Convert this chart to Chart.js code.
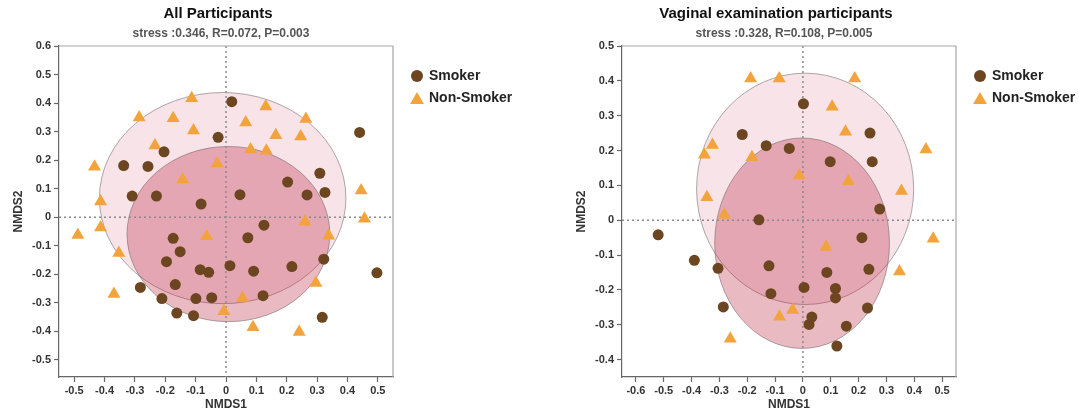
<!DOCTYPE html>
<html>
<head>
<meta charset="utf-8">
<script src="https://cdn.jsdelivr.net/npm/chart.js@4.4.1/dist/chart.umd.min.js"></script>
<style>
  html, body { margin: 0; padding: 0; background: #fff; }
  .panel { position: absolute; top: 0; width: 516px; height: 416px; }
</style>
</head>
<body>
<div class="panel" style="left:0"><canvas id="allChart" width="516" height="416"></canvas></div>
<div class="panel" style="left:563px"><canvas id="vagChart" width="516" height="416"></canvas></div>
<script>
// ---- data ----
const seriesNames = ['Smoker', 'Non-Smoker'];

// All Participants
const allSmoker = [
  [0.019, 0.405], [-0.026, 0.280], [-0.204, 0.229], [-0.337, 0.181], [-0.257, 0.178],
  [-0.309, 0.074], [-0.229, 0.074], [-0.082, 0.046], [0.046, 0.079], [0.440, 0.297],
  [0.309, 0.154], [0.203, 0.123], [0.267, 0.078], [0.326, 0.087], [0.125, -0.028],
  [-0.174, -0.074], [0.072, -0.072], [-0.151, -0.121], [-0.196, -0.156], [-0.085, -0.184],
  [-0.057, -0.193], [0.013, -0.170], [-0.167, -0.236], [-0.282, -0.246], [-0.211, -0.285],
  [-0.099, -0.285], [-0.047, -0.282], [-0.162, -0.336], [-0.107, -0.345], [0.091, -0.189],
  [0.217, -0.173], [0.322, -0.147], [0.497, -0.195], [0.122, -0.275], [0.317, -0.351]
];
const allNonSmoker = [
  [-0.113, 0.417], [-0.286, 0.349], [-0.174, 0.347], [-0.107, 0.304], [0.065, 0.332],
  [-0.234, 0.251], [-0.433, 0.177], [-0.029, 0.188], [-0.143, 0.132], [-0.413, 0.055],
  [-0.413, -0.036], [-0.488, -0.062], [-0.064, -0.067], [0.131, 0.388], [0.263, 0.344],
  [0.164, 0.287], [0.246, 0.283], [0.081, 0.237], [0.133, 0.233], [0.445, 0.094],
  [0.456, -0.005], [0.260, -0.016], [0.338, -0.065], [-0.353, -0.125], [-0.369, -0.269],
  [0.054, -0.283], [-0.007, -0.330], [0.089, -0.386], [0.296, -0.231], [0.241, -0.402]
];
// confidence ellipses: [centerX, centerY, radiusX, radiusY]
const allEllipseSmoker = [0.008, -0.059, 0.334, 0.307];
const allEllipseNonSmoker = [-0.011, 0.067, 0.406, 0.370];
const allXTicks = [-0.5, -0.4, -0.3, -0.2, -0.1, 0, 0.1, 0.2, 0.3, 0.4, 0.5];
const allYTicks = [-0.5, -0.4, -0.3, -0.2, -0.1, 0, 0.1, 0.2, 0.3, 0.4, 0.5, 0.6];

// Vaginal examination participants
const vagSmoker = [
  [-0.218, 0.246], [-0.132, 0.214], [-0.158, 0.001], [-0.520, -0.042], [0.002, 0.334],
  [0.241, 0.250], [-0.049, 0.206], [0.098, 0.168], [0.249, 0.168], [0.276, 0.032],
  [0.212, -0.050], [-0.390, -0.115], [-0.305, -0.138], [-0.286, -0.249], [-0.122, -0.131],
  [-0.115, -0.211], [0.086, -0.150], [0.237, -0.141], [0.004, -0.193], [0.117, -0.196],
  [0.117, -0.223], [0.232, -0.252], [0.032, -0.278], [0.022, -0.299], [0.156, -0.304],
  [0.122, -0.361]
];
const vagNonSmoker = [
  [-0.188, 0.407], [-0.325, 0.216], [-0.354, 0.188], [-0.183, 0.181], [-0.345, 0.066],
  [-0.282, 0.016], [-0.085, 0.407], [0.186, 0.407], [0.105, 0.326], [0.153, 0.254],
  [0.442, 0.203], [-0.013, 0.128], [0.163, 0.112], [0.354, 0.084], [0.468, -0.053],
  [0.083, -0.077], [0.347, -0.147], [-0.037, -0.258], [-0.084, -0.277], [-0.261, -0.340]
];
const vagEllipseSmoker = [-0.003, -0.066, 0.314, 0.302];
const vagEllipseNonSmoker = [0.008, 0.090, 0.390, 0.332];
const vagXTicks = [-0.6, -0.5, -0.4, -0.3, -0.2, -0.1, 0, 0.1, 0.2, 0.3, 0.4, 0.5];
const vagYTicks = [-0.4, -0.3, -0.2, -0.1, 0, 0.1, 0.2, 0.3, 0.4, 0.5];

// ---- look ----
const FONT = "'Liberation Sans', Arial, sans-serif";
const SMOKER_COLOR = '#6c4621';
const NONSMOKER_COLOR = '#f3a33b';
const SMOKER_FILL = 'rgba(185, 25, 52, 0.30)';
const NONSMOKER_FILL = 'rgba(200, 70, 100, 0.15)';

function drawTriangle(ctx, x, y, r) {
  ctx.beginPath();
  ctx.moveTo(x, y - r);
  ctx.lineTo(x + r * Math.sin(Math.PI * 2 / 3), y + r / 2);
  ctx.lineTo(x - r * Math.sin(Math.PI * 2 / 3), y + r / 2);
  ctx.closePath();
  ctx.fill();
}

// ellipses, zero lines, frame, titles and legend
const nmdsDecor = {
  id: 'nmdsDecor',
  beforeDatasetsDraw(chart, args, opts) {
    const { ctx, chartArea: a, scales: { x, y } } = chart;
    ctx.save();

    // ellipses (non-smoker first, smoker on top)
    [[opts.nonSmokerEllipse, NONSMOKER_FILL], [opts.smokerEllipse, SMOKER_FILL]].forEach(([e, fill]) => {
      const cx = x.getPixelForValue(e[0]);
      const cy = y.getPixelForValue(e[1]);
      const rx = x.getPixelForValue(e[0] + e[2]) - cx;
      const ry = y.getPixelForValue(e[1] - e[3]) - cy;
      ctx.beginPath();
      ctx.ellipse(cx, cy, rx, ry, 0, 0, Math.PI * 2);
      ctx.fillStyle = fill;
      ctx.fill();
      ctx.lineWidth = 1;
      ctx.strokeStyle = 'rgba(110, 100, 100, 0.55)';
      ctx.stroke();
    });

    // dotted zero lines
    ctx.setLineDash([2, 3]);
    ctx.lineWidth = 1.5;
    ctx.strokeStyle = '#8a8a8a';
    const x0 = x.getPixelForValue(0);
    const y0 = y.getPixelForValue(0);
    ctx.beginPath();
    ctx.moveTo(x0, a.top); ctx.lineTo(x0, a.bottom);
    ctx.moveTo(a.left, y0); ctx.lineTo(a.right, y0);
    ctx.stroke();
    ctx.setLineDash([]);

    // light top / right frame
    ctx.lineWidth = 1.2;
    ctx.strokeStyle = '#a6a6a6';
    ctx.beginPath();
    ctx.moveTo(a.left, a.top); ctx.lineTo(a.right, a.top); ctx.lineTo(a.right, a.bottom);
    ctx.stroke();
    ctx.restore();
  },
  afterDraw(chart, args, opts) {
    const { ctx, chartArea: a } = chart;
    const mid = (a.left + a.right) / 2;
    ctx.save();
    ctx.textAlign = 'center';
    ctx.textBaseline = 'middle';
    ctx.fillStyle = '#111';
    ctx.font = 'bold 15px ' + FONT;
    ctx.fillText(opts.title, mid + opts.titleShift, 14);
    ctx.fillStyle = '#555';
    ctx.font = 'bold 12px ' + FONT;
    ctx.fillText(opts.subtitle, mid - 5, 34);

    // legend
    const lx = a.right + 24;
    ctx.textAlign = 'left';
    ctx.font = 'bold 14px ' + FONT;
    ctx.fillStyle = SMOKER_COLOR;
    ctx.beginPath();
    ctx.arc(lx, 76, 6, 0, Math.PI * 2);
    ctx.fill();
    ctx.fillStyle = NONSMOKER_COLOR;
    drawTriangle(ctx, lx, 100, 8);
    ctx.fillStyle = '#222';
    ctx.fillText(seriesNames[0], lx + 12, 76);
    ctx.fillText(seriesNames[1], lx + 12, 98);
    ctx.restore();
  }
};

function axis(min, max, ticks, title, isX) {
  return {
    type: 'linear',
    min: min,
    max: max,
    afterBuildTicks: s => { s.ticks = ticks.map(v => ({ value: v })); },
    afterFit: s => { if (isX) s.height = 39; else s.width = 59; },
    grid: { drawOnChartArea: false, drawTicks: true, tickLength: 5, tickColor: '#666', tickWidth: 1.2 },
    border: { color: '#666', width: 1.2 },
    ticks: {
      padding: isX ? 2 : 3,
      color: '#333',
      autoSkip: false,
      maxRotation: 0,
      font: { family: FONT, size: 11, weight: 'bold' }
    },
    title: {
      display: true,
      text: title,
      color: '#333',
      font: { family: FONT, size: 12, weight: 'bold' },
      padding: isX ? { top: 0, bottom: 4 } : { top: 11, bottom: 0 }
    }
  };
}

function makeChart(id, smoker, nonSmoker, xr, yr, xTicks, yTicks, decor) {
  const ctx = document.getElementById(id).getContext('2d');
  return new Chart(ctx, {
    type: 'scatter',
    data: {
      datasets: [
        {
          label: seriesNames[0],
          data: smoker.map(p => ({ x: p[0], y: p[1] })),
          pointStyle: 'circle',
          pointRadius: 5.5,
          backgroundColor: SMOKER_COLOR,
          borderWidth: 0
        },
        {
          label: seriesNames[1],
          data: nonSmoker.map(p => ({ x: p[0], y: p[1] })),
          pointStyle: 'triangle',
          pointRadius: 7.5,
          backgroundColor: NONSMOKER_COLOR,
          borderWidth: 0
        }
      ]
    },
    options: {
      responsive: false,
      animation: false,
      layout: { padding: { top: 46, right: 123, left: 0, bottom: 0 } },
      scales: {
        x: axis(xr[0], xr[1], xTicks, 'NMDS1', true),
        y: axis(yr[0], yr[1], yTicks, 'NMDS2', false)
      },
      plugins: {
        legend: { display: false },
        title: { display: false },
        tooltip: { enabled: false },
        nmdsDecor: decor
      }
    },
    plugins: [nmdsDecor]
  });
}

makeChart('allChart', allSmoker, allNonSmoker, [-0.55, 0.55], [-0.56, 0.6], allXTicks, allYTicks, {
  title: 'All Participants',
  subtitle: 'stress :0.346, R=0.072, P=0.003',
  titleShift: -8,
  smokerEllipse: allEllipseSmoker,
  nonSmokerEllipse: allEllipseNonSmoker
});

makeChart('vagChart', vagSmoker, vagNonSmoker, [-0.65, 0.55], [-0.45, 0.5], vagXTicks, vagYTicks, {
  title: 'Vaginal examination participants',
  subtitle: 'stress :0.328, R=0.108, P=0.005',
  titleShift: -13,
  smokerEllipse: vagEllipseSmoker,
  nonSmokerEllipse: vagEllipseNonSmoker
});
</script>
</body>
</html>
